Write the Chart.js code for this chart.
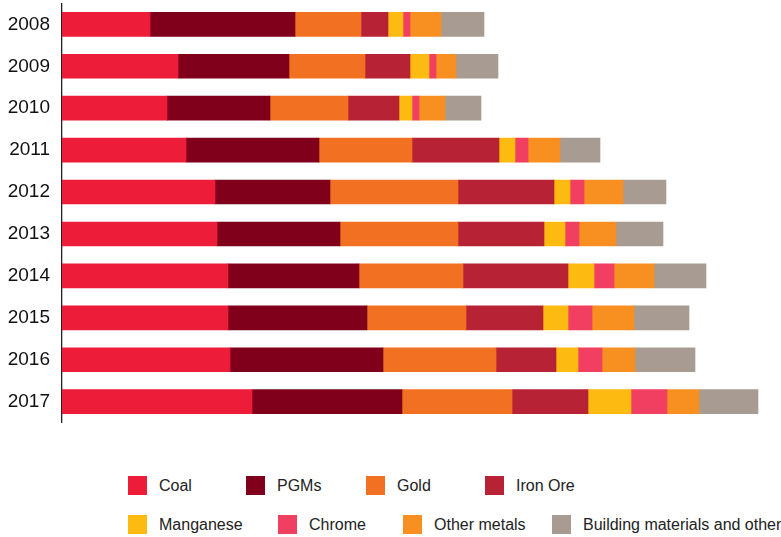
<!DOCTYPE html>
<html>
<head>
<meta charset="utf-8">
<script src="https://cdn.jsdelivr.net/npm/chart.js@4/dist/chart.umd.min.js"></script>
<style>
    body { margin: 0; background: #fff; font-family: "Liberation Sans", Arial, sans-serif; overflow: hidden; }
    #wrap { position: relative; width: 781px; height: 537px; overflow: hidden; }
    #chart-box { position: absolute; left: 0; top: -20px; width: 781px; height: 466px; }
    #legend { position: absolute; left: 128px; top: 476px; }
    .legend-row { display: flex; height: 19px; margin-bottom: 20px; }
    .legend-item { display: flex; align-items: center; flex: none; }
    .legend-box { width: 19px; height: 19px; flex: none; }
    .legend-text { margin-left: 12px; font-size: 16px; color: #222; white-space: nowrap; }
</style>
</head>
<body>
<div id="wrap">
    <div id="chart-box"><canvas id="mining-chart"></canvas></div>
    <div id="legend"></div>
</div>
<script>
// Categories
const years = ['2008', '2009', '2010', '2011', '2012', '2013', '2014', '2015', '2016', '2017'];

// Series values
const coal        = [88, 116, 105, 124, 153, 155, 166, 166, 168, 190];
const pgms        = [145, 111, 103, 133, 115, 123, 131, 139, 153, 150];
const gold        = [66, 76, 78, 93, 128, 118, 104, 99, 113, 110];
const ironOre     = [27, 45, 51, 87, 96, 86, 105, 77, 60, 76];
const manganese   = [15, 19, 13, 16, 16, 21, 26, 25, 22, 43];
const chrome      = [7, 7, 7, 13, 14, 14, 20, 24, 24, 36];
const otherMetals = [31, 20, 26, 32, 39, 37, 40, 42, 33, 32];
const building    = [43, 42, 36, 40, 43, 47, 52, 55, 60, 59];

const seriesNames = ['Coal', 'PGMs', 'Gold', 'Iron Ore', 'Manganese', 'Chrome', 'Other metals', 'Building materials and other'];
const seriesData = [coal, pgms, gold, ironOre, manganese, chrome, otherMetals, building];
const seriesColors = ['#ED1D3A', '#80001C', '#F27022', '#B82235', '#FDBB12', '#F03F60', '#F79020', '#A89B91'];

// Legend layout: 4 items per row, slot widths in px
const legendRows = [[0, 1, 2, 3], [4, 5, 6, 7]];
const legendSlots = [[118, 120, 119, 0], [150, 125, 149, 0]];

const datasets = seriesNames.map((name, i) => ({
    label: name,
    data: seriesData[i],
    backgroundColor: seriesColors[i],
    borderWidth: 0,
    barThickness: 24
}));

new Chart(document.getElementById('mining-chart').getContext('2d'), {
    type: 'bar',
    data: { labels: years, datasets: datasets },
    options: {
        indexAxis: 'y',
        responsive: true,
        maintainAspectRatio: false,
        animation: false,
        layout: { padding: { top: 2, bottom: 10, right: 11, left: 0 } },
        plugins: {
            legend: { display: false },
            tooltip: { enabled: false }
        },
        scales: {
            x: {
                stacked: true,
                display: false,
                min: 0,
                max: 708
            },
            y: {
                stacked: true,
                grid: { display: false, drawTicks: false },
                border: { display: true, color: '#222', width: 1.3 },
                ticks: {
                    color: '#111',
                    padding: 12,
                    font: { family: '"Liberation Sans", Arial, sans-serif', size: 19 }
                },
                afterFit: scale => { scale.width = 62; }
            }
        }
    }
});

// Build HTML legend from the series
const legend = document.getElementById('legend');
legendRows.forEach((row, r) => {
    const rowEl = document.createElement('div');
    rowEl.className = 'legend-row';
    row.forEach((idx, k) => {
        const item = document.createElement('div');
        item.className = 'legend-item';
        if (legendSlots[r][k]) item.style.width = legendSlots[r][k] + 'px';
        item.innerHTML = `<span class="legend-box" style="background:${seriesColors[idx]}"></span>` +
            `<span class="legend-text">${seriesNames[idx]}</span>`;
        rowEl.appendChild(item);
    });
    legend.appendChild(rowEl);
});
</script>
</body>
</html>
